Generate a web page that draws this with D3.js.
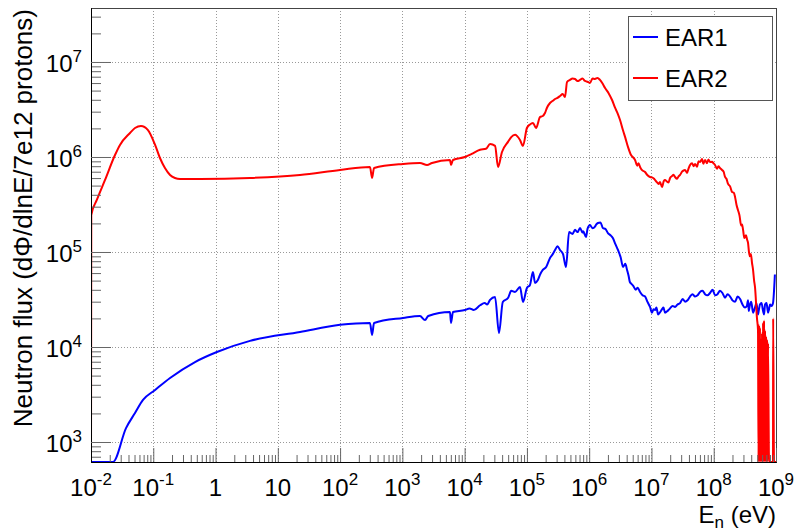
<!DOCTYPE html>
<html>
<head>
<meta charset="utf-8">
<script src="https://cdn.jsdelivr.net/npm/d3@7"></script>
<style>
  body { margin: 0; background: #fff; }
  text { font-family: "Liberation Sans", Arial, Helvetica, sans-serif; fill: #000; }
</style>
</head>
<body>
<div class="chart"></div>
<script>
// EAR2 (red) - energy in eV, flux per lethargy
var ear2Energy = [
  1.00e-2, 1.01e-2, 1.24e-2, 1.68e-2, 2.43e-2, 2.92e-2, 4.23e-2, 5.09e-2, 6.35e-2, 8.22e-2,
  0.107, 0.128, 0.154, 0.186, 0.223, 0.269, 0.562, 3.57, 22.7, 99.8,
  302, 326, 351, 1023, 1919, 2489, 2992, 5821, 6040, 6500,
  1.01e4, 1.77e4, 2.56e4, 3.08e4, 3.44e4, 3.98e4, 6.44e4, 7.74e4, 8.65e4, 1.00e5,
  1.25e5, 1.40e5, 1.63e5, 1.95e5, 2.35e5, 2.83e5, 3.40e5, 4.09e5, 4.41e5, 4.92e5,
  5.93e5, 7.13e5, 8.57e5, 1.03e6, 1.24e6, 1.49e6, 1.80e6, 2.33e6, 3.13e6, 4.21e6,
  5.45e6, 6.56e6, 7.0e6, 7.89e6, 8.5e6, 9.48e6, 1.02e7, 1.14e7, 1.23e7, 1.37e7,
  1.48e7, 1.65e7, 1.78e7, 1.99e7, 2.14e7, 2.39e7, 2.58e7, 2.88e7, 3.10e7, 3.46e7,
  3.73e7, 4.17e7, 4.48e7, 5.01e7, 5.40e7, 6.03e7, 6.50e7, 7.25e7, 7.80e7, 8.72e7,
  9.40e7, 1.05e8, 1.13e8, 1.26e8, 1.36e8, 1.52e8, 1.70e8, 1.97e8, 2.20e8, 2.45e8,
  2.75e8, 2.96e8, 3.30e8, 3.56e8, 3.80e8, 4.12e8, 4.28e8, 4.60e8, 4.95e8, 5.14e8,
  5.24e8, 5.33e8, 5.43e8, 5.53e8, 5.63e8, 5.74e8, 5.85e8, 5.96e8, 6.07e8, 6.19e8,
  6.31e8, 6.43e8, 6.55e8, 6.67e8, 6.80e8, 6.92e8, 7.05e8, 7.18e8, 7.31e8, 7.45e8,
  7.73e8, 8.95e8, 9.0e8, 9.29e8, 1e9,
  // bin-to-bin fluctuations
  1.3e4, 2.2e4, 5.0e4, 5.6e4, 1.12e5, 1.80e5, 2.1e5, 2.6e5, 3.1e5, 3.75e5,
  5.4e5, 6.5e5, 7.8e5, 9.4e5, 1.13e6, 1.36e6, 1.62e6, 2.05e6, 2.6e6, 2.85e6,
  3.5e6, 3.8e6, 4.7e6, 5.0e6, 5.9e6, 6.2e6,
  1.1e7, 1.3e7, 1.58e7, 1.88e7, 2.26e7, 2.7e7, 3.25e7, 3.95e7, 4.75e7, 5.7e7,
  6.8e7, 8.2e7, 9.9e7, 1.19e8, 1.44e8, 1.6e8, 1.83e8, 2.1e8, 2.33e8, 2.6e8,
  2.85e8, 3.1e8, 3.43e8, 3.68e8, 3.95e8, 4.45e8
];
var ear2Flux = [
  0, 2.45e5, 3.53e5, 5.73e5, 1.05e6, 1.34e6, 1.79e6, 2.02e6, 2.12e6, 1.92e6,
  1.34e6, 9.76e5, 7.66e5, 6.47e5, 6.01e5, 5.86e5, 5.86e5, 6.01e5, 6.47e5, 7.30e5,
  7.85e5, 6.01e5, 7.66e5, 8.44e5, 8.65e5, 8.24e5, 8.65e5, 9.30e5, 8.24e5, 9.30e5,
  1.00e6, 1.19e6, 1.37e6, 1.31e6, 7.85e5, 1.13e6, 1.71e6, 1.51e6, 1.31e6, 2.02e6,
  2.28e6, 2.02e6, 2.64e6, 2.90e6, 3.70e6, 4.08e6, 4.38e6, 4.28e6, 6.16e6, 6.47e6,
  6.62e6, 6.47e6, 6.31e6, 6.01e6, 6.62e6, 6.47e6, 5.32e6, 3.98e6, 2.45e6, 1.27e6,
  9.30e5, 7.85e5, 7.30e5, 6.95e5, 6.50e5, 6.16e5, 6.10e5, 5.73e5, 5.40e5, 5.46e5,
  4.83e5, 5.73e5, 5.50e5, 6.01e5, 6.30e5, 6.16e5, 5.90e5, 6.47e5, 7.00e5, 7.30e5,
  6.80e5, 8.24e5, 8.60e5, 8.44e5, 7.90e5, 8.86e5, 9.50e5, 9.30e5, 8.60e5, 8.86e5,
  8.90e5, 8.24e5, 7.50e5, 7.66e5, 7.30e5, 6.16e5, 5.20e5, 4.28e5, 3.80e5, 2.77e5,
  1.90e5, 1.71e5, 1.50e5, 1.24e5, 9.00e4, 7.66e4, 6.50e4, 4.28e4, 2.0e4, 1.5e4,
  0, 1.7e4, 0, 1.6e4, 0, 1.2e4, 0, 1.4e4, 0, 1.8e4,
  0, 1.9e4, 0, 1.5e4, 0, 1.3e4, 0, 1.2e4, 0, 1.1e4,
  0, 0, 2.0e4, 0, 0,
  // bin-to-bin fluctuations
  1.08e6, 1.22e6, 1.45e6, 1.62e6, 2.2e6, 2.7e6, 3.3e6, 3.9e6, 4.2e6, 4.6e6,
  6.7e6, 6.3e6, 6.7e6, 6.2e6, 6.7e6, 6.8e6, 6.0e6, 4.7e6, 3.3e6, 2.9e6,
  1.9e6, 1.6e6, 1.05e6, 1.0e6, 8.1e5, 8.6e5,
  5.9e5, 5.2e5, 5.6e5, 5.4e5, 6.5e5, 6.2e5, 7.2e5, 7.6e5, 8.0e5, 9.0e5,
  8.5e5, 9.4e5, 8.6e5, 8.0e5, 7.0e5, 5.9e5, 4.9e5, 4.2e5, 3.1e5, 2.4e5,
  1.95e5, 1.4e5, 1.35e5, 1.0e5, 9.5e4, 5.0e4
];

// EAR1 (blue)
var ear1Energy = [
  1.00e-2, 2.25e-2, 3.65e-2, 5.09e-2, 6.84e-2, 0.107, 0.186, 0.468, 1.05, 3.57,
  22.7, 99.8, 302, 326, 351, 1023, 1919, 2312, 2600, 5821,
  6040, 6500, 1.01e4, 1.77e4, 2.56e4, 3.08e4, 3.56e4, 4.10e4, 6.44e4, 7.74e4,
  8.65e4, 1.00e5, 1.25e5, 1.35e5, 1.50e5, 1.80e5, 2.35e5, 2.83e5, 3.40e5, 3.80e5,
  4.25e5, 4.75e5, 5.93e5, 7.13e5, 8.00e5, 8.90e5, 1.03e6, 1.24e6, 1.38e6, 1.66e6,
  2.00e6, 2.40e6, 2.90e6, 3.50e6, 4.06e6, 4.50e6, 5.10e6, 6.56e6, 7.90e6, 9.48e6,
  1.02e7, 1.14e7, 1.28e7, 1.48e7, 1.65e7, 1.99e7, 2.39e7, 2.88e7, 3.46e7, 4.17e7,
  5.01e7, 6.03e7, 7.25e7, 8.72e7, 1.05e8, 1.26e8, 1.52e8, 1.83e8, 2.20e8, 2.65e8,
  3.18e8, 3.56e8, 3.80e8, 4.28e8, 4.60e8, 5.14e8, 5.53e8, 6.19e8, 6.67e8, 7.45e8,
  8.02e8, 8.95e8, 9.60e8,
  // bin-to-bin fluctuations
  1.2e4, 1.4e4, 2.1e4, 2.3e4, 5.0e4, 5.6e4, 1.12e5, 1.65e5, 2.05e5, 2.6e5,
  3.1e5, 5.4e5, 6.5e5, 7.8e5, 9.4e5, 1.13e6, 1.3e6, 1.52e6, 1.82e6, 2.2e6,
  2.65e6, 3.2e6, 3.8e6, 4.3e6, 4.8e6, 5.6e6, 6.0e6, 7.2e6, 8.6e6, 1.08e7,
  1.2e7, 1.36e7, 1.56e7, 1.82e7, 2.18e7, 2.62e7, 3.17e7, 3.8e7, 4.58e7, 5.5e7,
  6.6e7, 7.9e7, 9.6e7, 1.15e8, 1.38e8, 1.67e8, 2.0e8, 2.42e8, 2.9e8, 3.4e8,
  3.65e8, 4.0e8, 4.42e8, 4.85e8, 5.33e8, 5.85e8, 6.43e8, 7.05e8, 7.73e8, 8.5e8
];
var ear1Flux = [
  0, 600, 1.40e3, 2.02e3, 2.77e3, 3.53e3, 4.72e3, 6.95e3, 8.86e3, 1.16e4,
  1.44e4, 1.71e4, 1.79e4, 1.34e4, 1.79e4, 2.02e4, 2.12e4, 1.92e4, 2.12e4, 2.34e4,
  1.79e4, 2.34e4, 2.45e4, 2.75e4, 3.13e4, 3.36e4, 1.40e4, 2.98e4, 3.79e4, 4.28e4,
  2.98e4, 4.18e4, 6.16e4, 4.72e4, 5.07e4, 6.47e4, 8.65e4, 1.05e5, 1.05e5, 9.50e4,
  6.95e4, 1.62e5, 1.71e5, 1.79e5, 1.65e5, 1.44e5, 1.92e5, 1.85e5, 2.02e5, 1.79e5,
  1.58e5, 1.40e5, 1.05e5, 6.95e4, 6.47e4, 4.83e4, 4.40e4, 3.79e4, 3.40e4, 2.64e4,
  2.30e4, 2.45e4, 2.20e4, 2.50e4, 2.30e4, 2.55e4, 2.64e4, 2.90e4, 3.00e4, 3.40e4,
  3.40e4, 3.80e4, 3.60e4, 3.70e4, 3.50e4, 3.90e4, 3.30e4, 3.40e4, 3.00e4, 3.20e4,
  2.60e4, 3.10e4, 2.75e4, 2.30e4, 2.60e4, 2.20e4, 2.80e4, 2.40e4, 2.80e4, 2.30e4,
  2.80e4, 2.90e4, 5.80e4,
  // bin-to-bin fluctuations
  2.55e4, 2.45e4, 2.9e4, 2.8e4, 3.3e4, 3.9e4, 4.5e4, 5.9e4, 7.0e4, 9.5e4,
  1.15e5, 1.55e5, 1.62e5, 1.6e5, 1.75e5, 1.78e5, 1.95e5, 2.05e5, 1.75e5, 1.5e5,
  1.2e5, 8.8e4, 7.5e4, 5.6e4, 4.6e4, 4.0e4, 4.2e4, 3.5e4, 3.0e4, 2.5e4,
  2.6e4, 2.3e4, 2.6e4, 2.4e4, 2.7e4, 2.8e4, 3.2e4, 3.1e4, 3.6e4, 3.5e4,
  3.9e4, 3.5e4, 4.0e4, 3.6e4, 3.7e4, 3.6e4, 3.1e4, 3.4e4, 2.8e4, 2.7e4,
  2.4e4, 3.0e4, 2.4e4, 2.9e4, 2.5e4, 2.9e4, 2.2e4, 2.9e4, 2.5e4, 2.7e4
];

// tick exponents and legend names
var xTickExps = [-2, -1, 0, 1, 2, 3, 4, 5, 6, 7, 8, 9];
var yTickExps = [3, 4, 5, 6, 7];
var seriesNames = ["EAR1", "EAR2"];
var seriesColors = ["#0000ff", "#ff0000"];

var svgWidth = 796;
var svgHeight = 532;

var margin = {
  top: 8,
  right: 20,
  bottom: 70,
  left: 91
};

var width = svgWidth - margin.left - margin.right;
var height = svgHeight - margin.top - margin.bottom;

var svg = d3.select(".chart")
  .append("svg")
  .attr("width", svgWidth)
  .attr("height", svgHeight)
  .style("background", "#fff");

var chartGroup = svg.append("g")
  .attr("transform", `translate(${margin.left}, ${margin.top})`);

var yMin = 616, yMax = 3.7e7;

var xScale = d3.scaleLog().domain([1e-2, 1e9]).range([0, width]);
var yScale = d3.scaleLog().domain([yMin, yMax]).range([height, 0]);

// minor tick values
var xMinor = [];
d3.range(-2, 9).forEach(function(e) {
  d3.range(2, 10).forEach(function(m) { xMinor.push(m * Math.pow(10, e)); });
});
var yMinor = [];
d3.range(2, 8).forEach(function(e) {
  d3.range(2, 10).forEach(function(m) {
    var v = m * Math.pow(10, e);
    if (v > yMin && v < yMax) yMinor.push(v);
  });
});
var xMajor = xTickExps.map(e => Math.pow(10, e));
var yMajor = yTickExps.map(e => Math.pow(10, e));

// grid
chartGroup.append("g").selectAll("line")
  .data(xMajor.slice(1, -1))
  .enter().append("line")
  .attr("x1", d => Math.round(xScale(d)) + 0.5)
  .attr("x2", d => Math.round(xScale(d)) + 0.5)
  .attr("y1", 0).attr("y2", height)
  .attr("stroke", "#999").attr("stroke-dasharray", "1,2");

chartGroup.append("g").selectAll("line")
  .data(yMajor)
  .enter().append("line")
  .attr("y1", d => Math.round(yScale(d)) + 0.5)
  .attr("y2", d => Math.round(yScale(d)) + 0.5)
  .attr("x1", 0).attr("x2", width)
  .attr("stroke", "#999").attr("stroke-dasharray", "1,2");

// frame
chartGroup.append("rect")
  .attr("x", 0.5).attr("y", 0.5)
  .attr("width", width).attr("height", height)
  .attr("fill", "none").attr("stroke", "#444");

// curves
svg.append("defs").append("clipPath").attr("id", "plotclip")
  .append("rect").attr("x", 0).attr("y", 0).attr("width", width + 1).attr("height", height + 1);

var line = d3.line()
  .curve(d3.curveMonotoneX)
  .x(d => xScale(d[0]))
  .y(d => d[1] > yMin ? yScale(d[1]) : height);

var series = [
  d3.sort(d3.zip(ear1Energy, ear1Flux), d => d[0]),
  d3.sort(d3.zip(ear2Energy, ear2Flux), d => d[0])
];

chartGroup.append("g")
  .attr("clip-path", "url(#plotclip)")
  .selectAll("path")
  .data(series)
  .enter().append("path")
  .attr("d", d => line(d))
  .attr("fill", "none")
  .attr("stroke", (d, i) => seriesColors[i])
  .attr("stroke-width", 2)
  .attr("stroke-linejoin", "round");

// axes
var bottomAxis = d3.axisBottom(xScale).tickValues(xMajor).tickSizeInner(-14).tickSizeOuter(0).tickFormat("");
var bottomMinor = d3.axisBottom(xScale).tickValues(xMinor).tickSizeInner(-7).tickSizeOuter(0).tickFormat("");
var leftAxis = d3.axisLeft(yScale).tickValues(yMajor).tickSizeInner(-20).tickSizeOuter(0).tickFormat("");
var leftMinor = d3.axisLeft(yScale).tickValues(yMinor).tickSizeInner(-10).tickSizeOuter(0).tickFormat("");

var xAxisG = chartGroup.append("g").attr("transform", `translate(0, ${height})`);
xAxisG.append("g").call(bottomMinor);
xAxisG.append("g").call(bottomAxis);
var yAxisG = chartGroup.append("g");
yAxisG.append("g").call(leftMinor);
yAxisG.append("g").call(leftAxis);

chartGroup.selectAll(".tick line").attr("stroke", "#666");
chartGroup.selectAll(".domain").attr("stroke", "#000");
chartGroup.selectAll(".tick text").remove();

// tick labels with superscripts
var xLabels = chartGroup.append("g").selectAll("text")
  .data(xTickExps)
  .enter().append("text")
  .attr("x", d => xScale(Math.pow(10, d)))
  .attr("y", height + 34)
  .attr("text-anchor", "middle")
  .style("font-size", "24px");
xLabels.append("tspan").text(d => d === 0 ? "1" : "10");
xLabels.filter(d => d !== 0 && d !== 1).append("tspan")
  .attr("dy", -11).style("font-size", "17px").text(d => d < 0 ? "-" + (-d) : d);

var yLabels = chartGroup.append("g").selectAll("text")
  .data(yTickExps)
  .enter().append("text")
  .attr("x", -9)
  .attr("y", d => yScale(Math.pow(10, d)) + 10)
  .attr("text-anchor", "end")
  .style("font-size", "24px");
yLabels.append("tspan").text("10");
yLabels.append("tspan").attr("dy", -10).style("font-size", "17px").text(d => d);

// axis titles
svg.append("text")
  .attr("transform", "translate(32, 9) rotate(-90)")
  .attr("text-anchor", "end")
  .style("font-size", "26px")
  .text("Neutron flux (d\u03A6/dlnE/7e12 protons)");

var xTitle = svg.append("text")
  .attr("x", 776).attr("y", 523)
  .attr("text-anchor", "end")
  .style("font-size", "24px");
xTitle.append("tspan").text("E");
xTitle.append("tspan").attr("dy", 5).style("font-size", "17px").text("n");
xTitle.append("tspan").attr("dy", -5).text(" (eV)");

// legend
var legend = svg.append("g").attr("transform", "translate(628, 16)");
legend.append("rect")
  .attr("x", 0.5).attr("y", 0.5).attr("width", 144).attr("height", 84)
  .attr("fill", "#fff").attr("stroke", "#555");
var entries = legend.selectAll(".entry")
  .data(seriesNames)
  .enter().append("g")
  .attr("transform", (d, i) => `translate(0, ${21 + i * 41})`);
entries.append("line")
  .attr("x1", 5).attr("x2", 30)
  .attr("stroke", (d, i) => seriesColors[i]).attr("stroke-width", 2);
entries.append("text")
  .attr("x", 37).attr("y", 9)
  .style("font-size", "24px")
  .text(d => d);
</script>
</body>
</html>
